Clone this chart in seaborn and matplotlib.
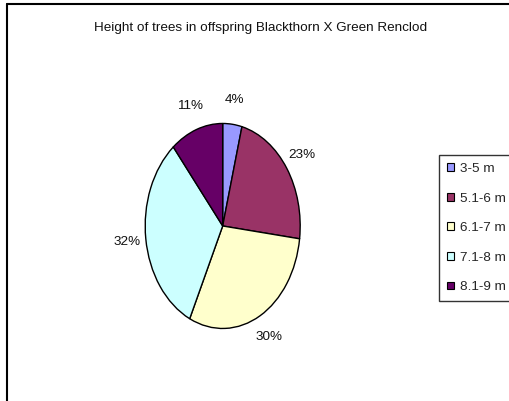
import matplotlib
matplotlib.use("Agg")
import matplotlib.pyplot as plt
from matplotlib.lines import Line2D
from matplotlib.patches import Patch
import seaborn as sns

# Data
categories = ["3-5 m", "5.1-6 m", "6.1-7 m", "7.1-8 m", "8.1-9 m"]
shares = [4, 23, 30, 32, 11]
slice_colors = ["#9999FF", "#993366", "#FFFFCC", "#CCFFFF", "#660066"]
title_text = "Height of trees in offspring Blackthorn X Green Renclod"

sns.set_theme(style="white")
plt.rcParams["font.family"] = ["Liberation Sans", "DejaVu Sans"]
FS = 9.7

palette = sns.color_palette(slice_colors)

fig = plt.figure(figsize=(5.10, 4.01), dpi=100)
fig.patch.set_facecolor("white")

# Axes box sized so the unit pie is stretched into a tall ellipse
ax = fig.add_axes([0.2467, 0.117, 0.3799, 0.639])
wedges, texts, autotexts = ax.pie(
    shares,
    colors=palette,
    startangle=90,
    counterclock=False,
    autopct=lambda p: f"{p:.0f}%",
    pctdistance=1.24,
    wedgeprops=dict(edgecolor="black", linewidth=1.0),
    textprops=dict(fontsize=FS, color="#111111"),
)
ax.set_aspect("auto")
ax.set_xlim(-1.25, 1.25)
ax.set_ylim(-1.25, 1.25)
ax.axis("off")

fig.text(0.51, 1 - 28 / 401, title_text, ha="center", va="center",
         fontsize=FS, color="#111111")

# Outer chart frame (left and top edges)
x0, y0 = 7.5 / 510, 1 - 3.5 / 401
fig.add_artist(Line2D([x0, x0], [0, y0], color="black", lw=1.5,
                      transform=fig.transFigure))
fig.add_artist(Line2D([x0, 1], [y0, y0], color="black", lw=1.5,
                      transform=fig.transFigure))

handles = [Patch(facecolor=c, edgecolor="black", linewidth=0.8) for c in palette]
leg = fig.legend(
    handles, categories,
    loc="upper left",
    bbox_to_anchor=(439 / 510, 1 - 155 / 401),
    fontsize=FS,
    frameon=True,
    fancybox=False,
    handlelength=0.5,
    handleheight=0.5,
    handletextpad=0.45,
    labelspacing=1.3,
    borderpad=0.6,
    borderaxespad=0,
)
leg.get_frame().set_edgecolor("black")
leg.get_frame().set_linewidth(1.0)
leg.get_frame().set_facecolor("white")

fig.savefig("out.png", dpi=100, facecolor="white")
